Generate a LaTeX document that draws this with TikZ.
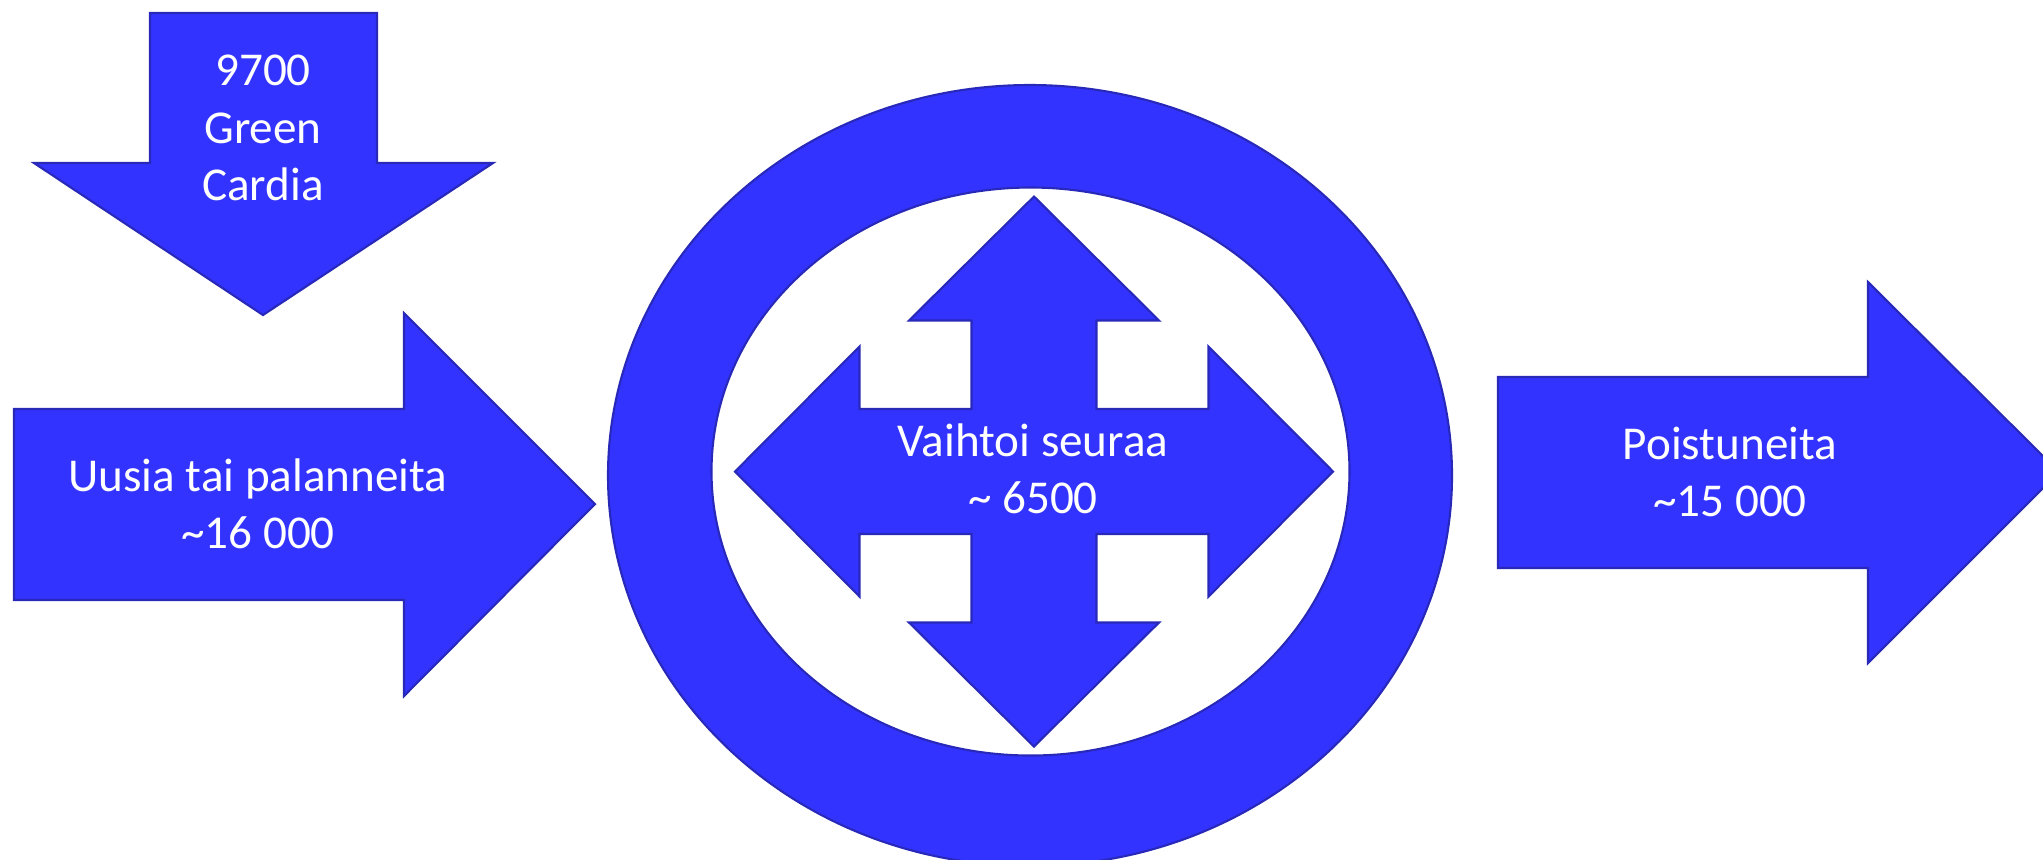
\documentclass[tikz,border=0pt]{standalone}
\usepackage{fontspec}
\setmainfont{Carlito}
\definecolor{arrowblue}{RGB}{51,51,255}
\definecolor{edgeblue}{RGB}{40,40,185}

\begin{document}
\begin{tikzpicture}[
      x=0.01cm, y=-0.01cm,
      blockarrow/.style={fill=arrowblue, draw=edgeblue, line width=0.6pt, line join=miter},
      ring/.style={blockarrow, even odd rule},
      lbl/.style={text=white, align=center, inner sep=0pt, font=\fontsize{13.4}{16.3}\selectfont}
    ]

    \useasboundingbox (0,0) rectangle (2043,859);
    \clip (0,0) rectangle (2043,859);

    % arrow from above
    \draw[blockarrow] (150,13) -- (377,13) -- (377,163) -- (493,163) -- (263,315) -- (34,163) -- (150,163) -- cycle;
    \node[lbl] (green) at (263,128) {9700\\Green\\Cardia};

    % incoming
    \draw[blockarrow] (14,409) -- (404,409) -- (404,313) -- (595,504) -- (404,696) -- (404,600) -- (14,600) -- cycle;
    \node[lbl] (uusia) at (258,504) {Uusia tai palanneita\\\textasciitilde16 000};

    % ring and four-way arrow
    \draw[ring] (1030,475.5) ellipse [x radius=422, y radius=390.5]
                (1030.5,471.5) ellipse [x radius=319, y radius=284];
    \draw[blockarrow, shift={(1034,471.5)}]
      (0,-275) -- (125,-151) -- (62.5,-151) -- (62.5,-62.5) -- (174.5,-62.5) -- (174.5,-125) -- (299,0)
      -- (174.5,125) -- (174.5,62.5) -- (62.5,62.5) -- (62.5,151) -- (125,151) -- (0,275)
      -- (-125,151) -- (-62.5,151) -- (-62.5,62.5) -- (-174.5,62.5) -- (-174.5,125) -- (-299,0)
      -- (-174.5,-125) -- (-174.5,-62.5) -- (-62.5,-62.5) -- (-62.5,-151) -- (-125,-151) -- cycle;
    \node[lbl] (vaihtoi) at (1033,469) {Vaihtoi seuraa\\\textasciitilde{} 6500};

    % outgoing
    \draw[blockarrow] (1498,377) -- (1868,377) -- (1868,282) -- (2059,472) -- (1868,663) -- (1868,568) -- (1498,568) -- cycle;
    \node[lbl] (poist) at (1730,472) {Poistuneita\\\textasciitilde15 000};

  \end{tikzpicture}
\end{document}
